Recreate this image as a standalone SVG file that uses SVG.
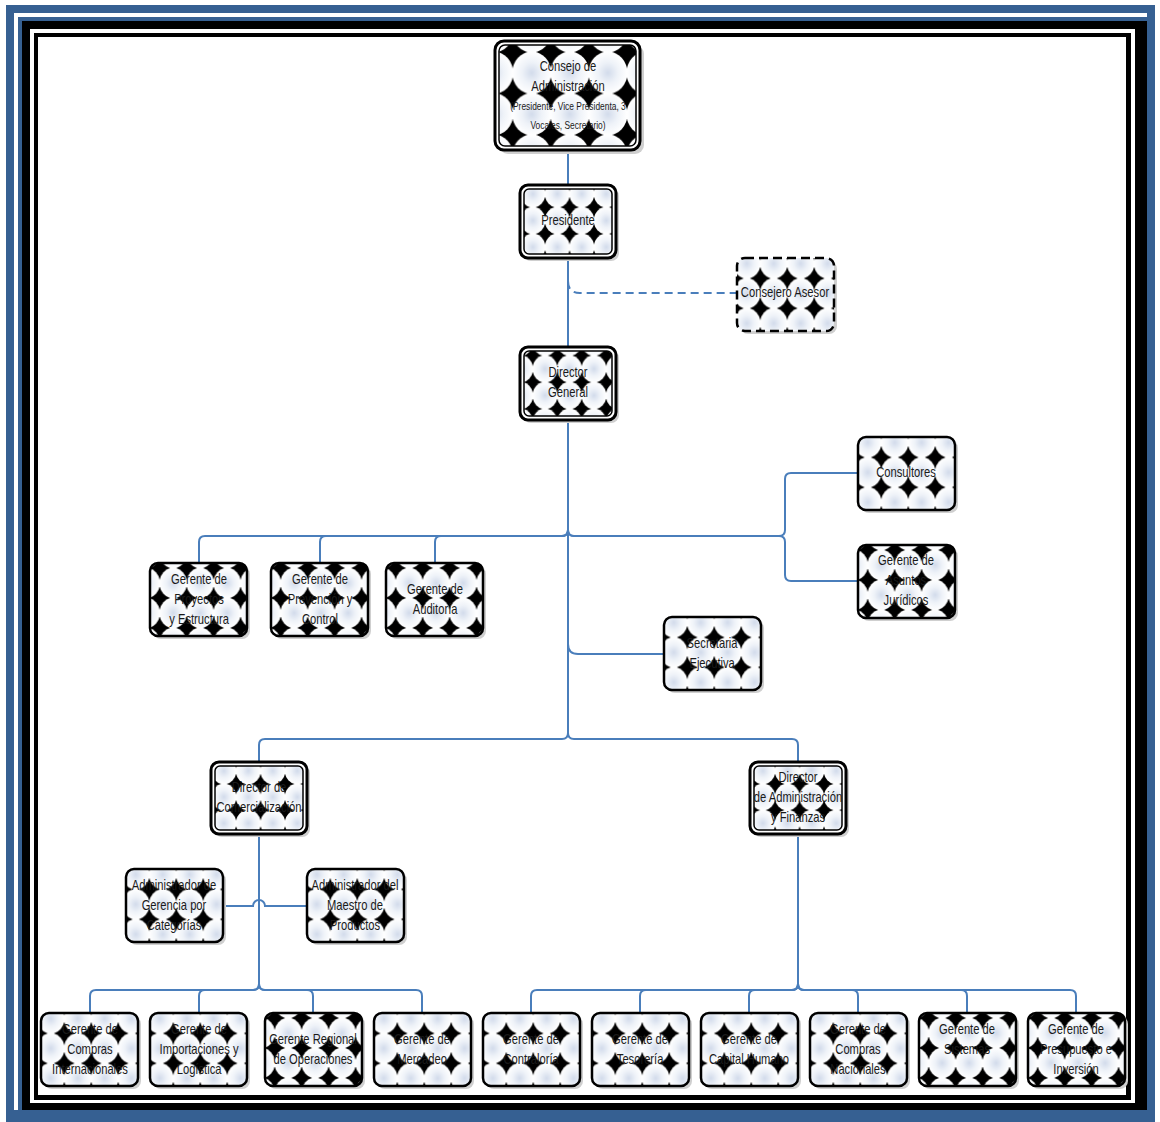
<svg xmlns="http://www.w3.org/2000/svg" width="1160" height="1122" viewBox="0 0 1160 1122">
  <defs>
    <radialGradient id="disc">
      <stop offset="0" stop-color="#d2dbeb"/>
      <stop offset="0.5" stop-color="#eef2f8"/>
      <stop offset="1" stop-color="#ffffff"/>
    </radialGradient>
    <!-- tiled discs on black, sized to each box: the gaps read as four-pointed stars -->
    <pattern id="tile" x="0.1" y="0.07" width="0.278" height="0.41" patternUnits="objectBoundingBox" patternContentUnits="objectBoundingBox">
      <rect width="0.278" height="0.41" fill="#000"/>
      <ellipse cx="0.139" cy="0.205" rx="0.142" ry="0.21" fill="url(#disc)"/>
    </pattern>
    <pattern id="tile2" x="0.24" y="0.28" width="0.278" height="0.41" patternUnits="objectBoundingBox" patternContentUnits="objectBoundingBox">
      <rect width="0.278" height="0.41" fill="#000"/>
      <ellipse cx="0.139" cy="0.205" rx="0.142" ry="0.21" fill="url(#disc)"/>
    </pattern>
    <style>
      .shadow { fill: #cfcfcf; }
      .box { fill: url(#tile); stroke: #000; stroke-width: 2.5; }
      .box2 { fill: url(#tile2); stroke: #000; stroke-width: 2.5; }
      .outer { fill: #fff; stroke: #000; stroke-width: 3; }
      .inner { fill: url(#tile); stroke: #000; stroke-width: 1.5; }
      .inner2 { fill: url(#tile2); stroke: #000; stroke-width: 1.5; }
      .dash { fill: url(#tile2); stroke: #000; stroke-width: 2.5; stroke-dasharray: 9 5; }
      .lbl { font-family: "Liberation Sans", Arial, sans-serif; font-size: 14px; fill: #1a1a1a; text-anchor: middle; dominant-baseline: central; transform-box: fill-box; transform-origin: center; transform: scaleX(0.8); }
      .small { font-size: 10.5px; }
      .wire { fill: none; stroke: #4A7EBB; stroke-width: 2; }
      .wire-dash { fill: none; stroke: #4A7EBB; stroke-width: 2; stroke-dasharray: 8 5; }
    </style>
  </defs>

  <!-- page frame -->
  <g id="frame">
    <rect x="6" y="5" width="1149" height="1117" fill="#366092"/>
    <rect x="14" y="13" width="1133" height="1097" fill="#fff"/>
    <rect x="18" y="17" width="1129" height="1093" fill="#366092"/>
    <rect x="22" y="21" width="1125" height="1089" fill="#000"/>
    <rect x="30" y="29" width="1105" height="1074" fill="#fff"/>
    <rect x="34" y="33" width="1097" height="1067" fill="#000"/>
    <rect x="38" y="37" width="1088" height="1058" fill="#fff"/>
  </g>

  <!-- connectors -->
  <g id="connectors">
    <path class="wire" d="M568,150 V185"/>
    <path class="wire" d="M568,258 V347"/>
    <path class="wire-dash" d="M568,281 Q568,293 580,293 H737"/>
    <path class="wire" d="M568,420 V733"/>
    <path class="wire" d="M568,530 Q568,536 562,536 H205 Q199,536 199,542 V563"/>
    <path class="wire" d="M568,530 Q568,536 562,536 H326 Q320,536 320,542 V563"/>
    <path class="wire" d="M568,530 Q568,536 562,536 H441 Q435,536 435,542 V563"/>
    <path class="wire" d="M568,530 Q568,536 574,536 H779 Q785,536 785,530 V479 Q785,473 791,473 H858"/>
    <path class="wire" d="M568,530 Q568,536 574,536 H779 Q785,536 785,542 V575 Q785,581 791,581 H858"/>
    <path class="wire" d="M568,644 Q568,654 578,654 H664"/>
    <path class="wire" d="M568,733 Q568,739 562,739 H265 Q259,739 259,745 V762"/>
    <path class="wire" d="M568,733 Q568,739 574,739 H792 Q798,739 798,745 V762"/>
    <path class="wire" d="M259,834 V984"/>
    <path class="wire" d="M223,906 H253 A6,6 0 0 1 265,906 H307"/>
    <path class="wire" d="M259,984 Q259,990 253,990 H96 Q90,990 90,996 V1013"/>
    <path class="wire" d="M259,984 Q259,990 253,990 H205 Q199,990 199,996 V1013"/>
    <path class="wire" d="M259,984 Q259,990 265,990 H307 Q313,990 313,996 V1013"/>
    <path class="wire" d="M259,984 Q259,990 265,990 H416 Q422,990 422,996 V1013"/>
    <path class="wire" d="M798,834 V984"/>
    <path class="wire" d="M798,984 Q798,990 792,990 H537 Q531,990 531,996 V1013"/>
    <path class="wire" d="M798,984 Q798,990 792,990 H646 Q640,990 640,996 V1013"/>
    <path class="wire" d="M798,984 Q798,990 792,990 H755 Q749,990 749,996 V1013"/>
    <path class="wire" d="M798,984 Q798,990 804,990 H852 Q858,990 858,996 V1013"/>
    <path class="wire" d="M798,984 Q798,990 804,990 H961 Q967,990 967,996 V1013"/>
    <path class="wire" d="M798,984 Q798,990 804,990 H1070 Q1076,990 1076,996 V1013"/>
  </g>

  <!-- board -->
  <g id="consejo">
    <rect class="shadow" x="499" y="45" width="145" height="109" rx="9"/>
    <rect class="outer" x="495" y="41" width="145" height="109" rx="9"/>
    <rect class="inner" x="499" y="45" width="137" height="101" rx="6"/>
    <text class="lbl" x="568" y="67">Consejo de</text>
    <text class="lbl" x="568" y="87">Administración</text>
    <text class="lbl small" x="568" y="106">(Presidente, Vice Presidenta, 3</text>
    <text class="lbl small" x="568" y="125">Vocales, Secretario)</text>
  </g>

  <g id="presidente">
    <rect class="shadow" x="523" y="188" width="96" height="73" rx="8"/>
    <rect class="outer" x="520" y="185" width="96" height="73" rx="8"/>
    <rect class="inner2" x="524" y="189" width="88" height="65" rx="5"/>
    <text class="lbl" x="568" y="221">Presidente</text>
  </g>

  <g id="consejero-asesor">
    <rect class="shadow" x="740" y="261" width="97" height="73" rx="8"/>
    <rect class="dash" x="737" y="258" width="97" height="73" rx="8"/>
    <text class="lbl" x="785" y="293">Consejero Asesor</text>
  </g>

  <g id="director-general">
    <rect class="shadow" x="523" y="350" width="96" height="73" rx="8"/>
    <rect class="outer" x="520" y="347" width="96" height="73" rx="8"/>
    <rect class="inner" x="524" y="351" width="88" height="65" rx="5"/>
    <text class="lbl" x="568" y="373">Director</text>
    <text class="lbl" x="568" y="393">General</text>
  </g>

  <g id="consultores">
    <rect class="shadow" x="861" y="440" width="97" height="73" rx="8"/>
    <rect class="box2" x="858" y="437" width="97" height="73" rx="8"/>
    <text class="lbl" x="906" y="473">Consultores</text>
  </g>

  <g id="asuntos-juridicos">
    <rect class="shadow" x="861" y="548" width="97" height="73" rx="8"/>
    <rect class="box" x="858" y="545" width="97" height="73" rx="8"/>
    <text class="lbl" x="906" y="561">Gerente de</text>
    <text class="lbl" x="906" y="581">Asuntos</text>
    <text class="lbl" x="906" y="601">Jurídicos</text>
  </g>

  <g id="proyectos">
    <rect class="shadow" x="153" y="566" width="97" height="73" rx="8"/>
    <rect class="box" x="150" y="563" width="97" height="73" rx="8"/>
    <text class="lbl" x="199" y="580">Gerente de</text>
    <text class="lbl" x="199" y="600">Proyectos</text>
    <text class="lbl" x="199" y="620">y Estructura</text>
  </g>

  <g id="prevencion">
    <rect class="shadow" x="274" y="566" width="97" height="73" rx="8"/>
    <rect class="box" x="271" y="563" width="97" height="73" rx="8"/>
    <text class="lbl" x="320" y="580">Gerente de</text>
    <text class="lbl" x="320" y="600">Prevención y</text>
    <text class="lbl" x="320" y="620">Control</text>
  </g>

  <g id="auditoria">
    <rect class="shadow" x="389" y="566" width="97" height="73" rx="8"/>
    <rect class="box" x="386" y="563" width="97" height="73" rx="8"/>
    <text class="lbl" x="435" y="590">Gerente de</text>
    <text class="lbl" x="435" y="610">Auditoría</text>
  </g>

  <g id="secretaria">
    <rect class="shadow" x="667" y="620" width="97" height="73" rx="8"/>
    <rect class="box2" x="664" y="617" width="97" height="73" rx="8"/>
    <text class="lbl" x="712" y="644">Secretaria</text>
    <text class="lbl" x="712" y="664">Ejecutiva</text>
  </g>

  <g id="comercializacion">
    <rect class="shadow" x="214" y="765" width="96" height="72" rx="8"/>
    <rect class="outer" x="211" y="762" width="96" height="72" rx="8"/>
    <rect class="inner2" x="215" y="766" width="88" height="64" rx="5"/>
    <text class="lbl" x="259" y="788">Director de</text>
    <text class="lbl" x="259" y="808">Comercialización</text>
  </g>

  <g id="administracion-finanzas">
    <rect class="shadow" x="753" y="765" width="96" height="72" rx="8"/>
    <rect class="outer" x="750" y="762" width="96" height="72" rx="8"/>
    <rect class="inner2" x="754" y="766" width="88" height="64" rx="5"/>
    <text class="lbl" x="798" y="778">Director</text>
    <text class="lbl" x="798" y="798">de Administración</text>
    <text class="lbl" x="798" y="818">y Finanzas</text>
  </g>

  <g id="gerencia-categorias">
    <rect class="shadow" x="129" y="872" width="97" height="73" rx="8"/>
    <rect class="box2" x="126" y="869" width="97" height="73" rx="8"/>
    <text class="lbl" x="174" y="886">Administrador de</text>
    <text class="lbl" x="174" y="906">Gerencia por</text>
    <text class="lbl" x="174" y="926">Categorías</text>
  </g>

  <g id="maestro-productos">
    <rect class="shadow" x="310" y="872" width="97" height="73" rx="8"/>
    <rect class="box2" x="307" y="869" width="97" height="73" rx="8"/>
    <text class="lbl" x="355" y="886">Administrador del</text>
    <text class="lbl" x="355" y="906">Maestro de</text>
    <text class="lbl" x="355" y="926">Productos</text>
  </g>

  <!-- bottom row of managers -->
  <g id="compras-internacionales">
    <rect class="shadow" x="44" y="1016" width="97" height="73" rx="8"/>
    <rect class="box2" x="41" y="1013" width="97" height="73" rx="8"/>
    <text class="lbl" x="90" y="1030">Gerente de</text>
    <text class="lbl" x="90" y="1050">Compras</text>
    <text class="lbl" x="90" y="1070">Internacionales</text>
  </g>

  <g id="importaciones">
    <rect class="shadow" x="153" y="1016" width="97" height="73" rx="8"/>
    <rect class="box2" x="150" y="1013" width="97" height="73" rx="8"/>
    <text class="lbl" x="199" y="1030">Gerente de</text>
    <text class="lbl" x="199" y="1050">Importaciones y</text>
    <text class="lbl" x="199" y="1070">Logística</text>
  </g>

  <g id="regional-operaciones">
    <rect class="shadow" x="268" y="1016" width="97" height="73" rx="8"/>
    <rect class="box" x="265" y="1013" width="97" height="73" rx="8"/>
    <text class="lbl" x="313" y="1040">Gerente Regional</text>
    <text class="lbl" x="313" y="1060">de Operaciones</text>
  </g>

  <g id="mercadeo">
    <rect class="shadow" x="377" y="1016" width="97" height="73" rx="8"/>
    <rect class="box2" x="374" y="1013" width="97" height="73" rx="8"/>
    <text class="lbl" x="422" y="1040">Gerente de</text>
    <text class="lbl" x="422" y="1060">Mercadeo</text>
  </g>

  <g id="contraloria">
    <rect class="shadow" x="486" y="1016" width="97" height="73" rx="8"/>
    <rect class="box2" x="483" y="1013" width="97" height="73" rx="8"/>
    <text class="lbl" x="531" y="1040">Gerente de</text>
    <text class="lbl" x="531" y="1060">Contraloría</text>
  </g>

  <g id="tesoreria">
    <rect class="shadow" x="595" y="1016" width="97" height="73" rx="8"/>
    <rect class="box2" x="592" y="1013" width="97" height="73" rx="8"/>
    <text class="lbl" x="640" y="1040">Gerente de</text>
    <text class="lbl" x="640" y="1060">Tesorería</text>
  </g>

  <g id="capital-humano">
    <rect class="shadow" x="704" y="1016" width="97" height="73" rx="8"/>
    <rect class="box2" x="701" y="1013" width="97" height="73" rx="8"/>
    <text class="lbl" x="749" y="1040">Gerente de</text>
    <text class="lbl" x="749" y="1060">Capital Humano</text>
  </g>

  <g id="compras-nacionales">
    <rect class="shadow" x="813" y="1016" width="97" height="73" rx="8"/>
    <rect class="box2" x="810" y="1013" width="97" height="73" rx="8"/>
    <text class="lbl" x="858" y="1030">Gerente de</text>
    <text class="lbl" x="858" y="1050">Compras</text>
    <text class="lbl" x="858" y="1070">Nacionales</text>
  </g>

  <g id="sistemas">
    <rect class="shadow" x="922" y="1016" width="97" height="73" rx="8"/>
    <rect class="box" x="919" y="1013" width="97" height="73" rx="8"/>
    <text class="lbl" x="967" y="1030">Gerente de</text>
    <text class="lbl" x="967" y="1050">Sistemas</text>
  </g>

  <g id="presupuesto">
    <rect class="shadow" x="1031" y="1016" width="97" height="73" rx="8"/>
    <rect class="box" x="1028" y="1013" width="97" height="73" rx="8"/>
    <text class="lbl" x="1076" y="1030">Gerente de</text>
    <text class="lbl" x="1076" y="1050">Presupuesto e</text>
    <text class="lbl" x="1076" y="1070">Inversión</text>
  </g>
</svg>
